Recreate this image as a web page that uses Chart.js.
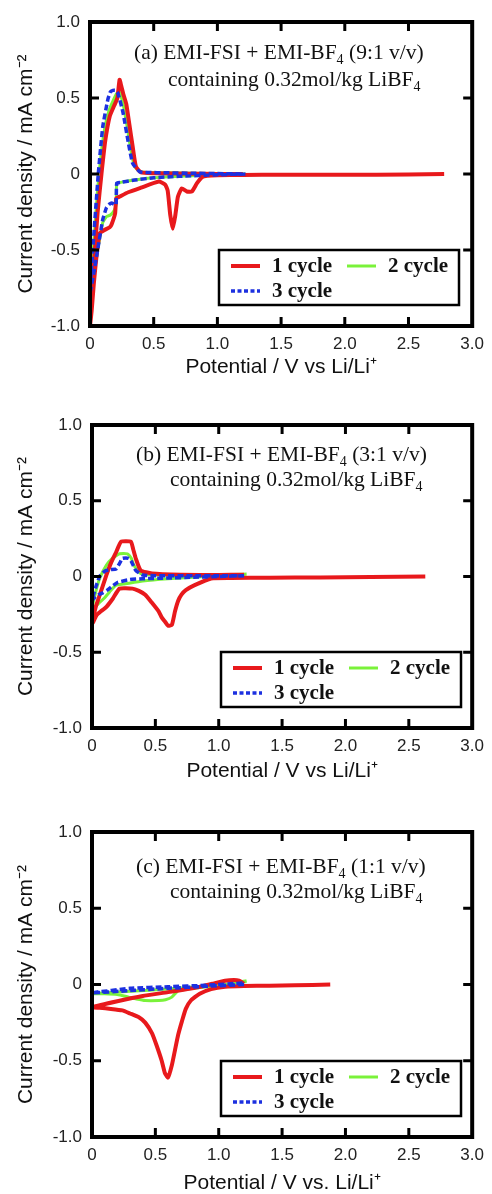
<!DOCTYPE html>
<html>
<head>
<meta charset="utf-8">
<script src="https://cdn.jsdelivr.net/npm/chart.js@4.4.1/dist/chart.umd.min.js"></script>
<style>
  html, body { margin: 0; padding: 0; background: #fff; }
  #wrap { position: relative; width: 492px; height: 1194px; }
  canvas { position: absolute; left: 0; }
</style>
</head>
<body>
<div id="wrap">
  <canvas id="chartA" width="492" height="380" style="top:0px"></canvas>
  <canvas id="chartB" width="492" height="382" style="top:400px"></canvas>
  <canvas id="chartC" width="492" height="394" style="top:800px"></canvas>
</div>
<script>
// tick positions shared by all three panels
const xTicks = [0, 0.5, 1.0, 1.5, 2.0, 2.5, 3.0];
const yTicks = [-1.0, -0.5, 0, 0.5, 1.0];
const cycleLabels = ['1 cycle', '2 cycle', '3 cycle'];

// (a) 9:1  -- potential (V) and current density (mA cm-2), cathodic sweep then anodic
const aRedV = [2.78, 2.5, 2.0, 1.5, 1.2, 1.0, 0.92, 0.88, 0.84, 0.80, 0.76, 0.72, 0.69, 0.67, 0.65, 0.63, 0.61, 0.59, 0.54, 0.40, 0.30, 0.23, 0.206, 0.197, 0.17, 0.155, 0.11, 0.077, 0.05, 0.03, 0.013, 0.0,
  0.03, 0.06, 0.09, 0.12, 0.155, 0.19, 0.215, 0.232, 0.245, 0.26, 0.285, 0.31, 0.335, 0.36, 0.40, 0.5, 0.8, 1.0, 1.2];
const aRedI = [0.0, -0.003, -0.005, -0.005, -0.006, -0.008, -0.012, -0.02, -0.06, -0.115, -0.115, -0.095, -0.15, -0.27, -0.36, -0.27, -0.11, -0.07, -0.05, -0.09, -0.12, -0.15, -0.16, -0.26, -0.33, -0.35, -0.37, -0.39, -0.55, -0.72, -0.9, -1.0,
  -0.6, -0.25, 0.0, 0.22, 0.38, 0.45, 0.50, 0.62, 0.58, 0.53, 0.46, 0.32, 0.18, 0.05, 0.01, 0.005, 0.002, 0.0, 0.0];
const aGreenV = [1.22, 1.0, 0.7, 0.5, 0.35, 0.24, 0.21, 0.205, 0.19, 0.16, 0.13, 0.10, 0.06, 0.03, 0.0,
  0.03, 0.06, 0.09, 0.12, 0.15, 0.18, 0.21, 0.23, 0.26, 0.29, 0.32, 0.35, 0.39, 0.45, 0.6, 0.8, 1.0, 1.22];
const aGreenI = [0.0, -0.005, -0.015, -0.025, -0.04, -0.055, -0.06, -0.2, -0.24, -0.27, -0.28, -0.32, -0.5, -0.65, -0.78,
  -0.45, -0.1, 0.15, 0.32, 0.42, 0.48, 0.53, 0.54, 0.46, 0.32, 0.16, 0.05, 0.015, 0.01, 0.008, 0.005, 0.003, 0.0];
const aBlueV = [1.22, 1.0, 0.7, 0.5, 0.35, 0.24, 0.21, 0.205, 0.19, 0.17, 0.15, 0.13, 0.10, 0.06, 0.03, 0.0,
  0.03, 0.065, 0.10, 0.14, 0.16, 0.18, 0.20, 0.22, 0.26, 0.30, 0.335, 0.39, 0.45, 0.6, 0.8, 1.0, 1.22];
const aBlueI = [0.0, -0.005, -0.015, -0.025, -0.04, -0.055, -0.06, -0.2, -0.2, -0.19, -0.2, -0.22, -0.3, -0.5, -0.65, -0.78,
  -0.4, 0.0, 0.31, 0.49, 0.54, 0.55, 0.55, 0.53, 0.40, 0.21, 0.07, 0.015, 0.01, 0.008, 0.005, 0.003, 0.0];

// (b) 3:1
const bRedV = [2.63, 2.2, 1.8, 1.4, 1.1, 0.94, 0.81, 0.74, 0.706, 0.68, 0.655, 0.63, 0.60, 0.578, 0.55, 0.526, 0.47, 0.42, 0.37, 0.32, 0.217, 0.165, 0.114, 0.07, 0.036, 0.01, 0.0,
  0.03, 0.062, 0.114, 0.15, 0.19, 0.23, 0.307, 0.325, 0.345, 0.384, 0.474, 0.7, 1.0, 1.2];
const bRedI = [0.0, -0.004, -0.006, -0.008, -0.01, -0.013, -0.057, -0.09, -0.12, -0.16, -0.23, -0.32, -0.325, -0.3, -0.27, -0.23, -0.17, -0.12, -0.095, -0.08, -0.08, -0.145, -0.2, -0.23, -0.255, -0.3, -0.31,
  -0.2, -0.12, 0.01, 0.09, 0.16, 0.23, 0.23, 0.18, 0.12, 0.04, 0.02, 0.012, 0.01, 0.012];
const bGreenV = [1.22, 1.0, 0.8, 0.6, 0.4, 0.25, 0.19, 0.14, 0.1, 0.062, 0.023, 0.0,
  0.03, 0.062, 0.114, 0.16, 0.217, 0.28, 0.31, 0.33, 0.36, 0.385, 0.45, 0.7, 1.0, 1.22];
const bGreenI = [0.015, 0.005, -0.005, -0.015, -0.03, -0.05, -0.057, -0.10, -0.14, -0.17, -0.2, -0.22,
  -0.1, -0.01, 0.075, 0.12, 0.15, 0.15, 0.12, 0.075, 0.04, 0.02, 0.012, 0.01, 0.012, 0.015];
const bBlueV = [1.2, 1.0, 0.8, 0.6, 0.4, 0.3, 0.2, 0.15, 0.12, 0.08, 0.05, 0.02, 0.0,
  0.03, 0.06, 0.10, 0.14, 0.19, 0.22, 0.24, 0.29, 0.31, 0.345, 0.40, 0.5, 0.8, 1.0, 1.2];
const bBlueI = [0.005, 0.0, -0.005, -0.01, -0.015, -0.02, -0.04, -0.07, -0.09, -0.11, -0.12, -0.14, -0.16,
  -0.07, 0.0, 0.035, 0.045, 0.05, 0.09, 0.12, 0.12, 0.1, 0.04, 0.01, 0.005, 0.005, 0.005, 0.005];

// (c) 1:1
const cRedV = [1.88, 1.6, 1.4, 1.2, 1.05, 0.94, 0.85, 0.78, 0.74, 0.71, 0.68, 0.655, 0.63, 0.60, 0.575, 0.55, 0.51, 0.474, 0.42, 0.37, 0.3, 0.24, 0.15, 0.06, 0.0,
  0.2, 0.4, 0.6, 0.835, 0.95, 1.05, 1.12, 1.16, 1.2];
const cRedI = [0.0, -0.005, -0.008, -0.01, -0.015, -0.03, -0.06, -0.105, -0.16, -0.24, -0.33, -0.43, -0.53, -0.61, -0.58, -0.5, -0.4, -0.32, -0.25, -0.215, -0.19, -0.17, -0.16, -0.153, -0.15,
  -0.11, -0.075, -0.05, -0.018, 0.005, 0.025, 0.03, 0.025, 0.005];
const cGreenV = [1.22, 1.0, 0.85, 0.75, 0.68, 0.63, 0.58, 0.526, 0.42, 0.35, 0.29, 0.2, 0.1, 0.0,
  0.3, 0.6, 0.9, 1.1, 1.22];
const cGreenI = [0.02, -0.005, -0.02, -0.03, -0.04, -0.083, -0.1, -0.105, -0.105, -0.095, -0.083, -0.065, -0.06, -0.06,
  -0.045, -0.03, -0.01, 0.005, 0.025];
const cBlueV = [1.2, 0.9, 0.6, 0.3, 0.0, 0.3, 0.6, 0.9, 1.2];
const cBlueI = [0.0, -0.012, -0.025, -0.04, -0.055, -0.025, -0.015, -0.005, 0.01];

const RED = '#e8191c';
const GREEN = '#7af23a';
const BLUE = '#1c30e0';

const panels = [
  { id: 'chartA', padTop: 22, plotH: 304, yW: 90, padRight: 14, tag: 'a', ratio: '9:1',
    xTitle: 'Potential / V vs Li/Li\u207A', textY: [31, 58], titlePad: 2,
    red: [aRedV, aRedI], green: [aGreenV, aGreenI], blue: [aBlueV, aBlueI] },
  { id: 'chartB', padTop: 25, plotH: 303, yW: 92, padRight: 12, tag: 'b', ratio: '3:1',
    xTitle: 'Potential / V vs Li/Li\u207A', textY: [30, 55], titlePad: 0,
    red: [bRedV, bRedI], green: [bGreenV, bGreenI], blue: [bBlueV, bBlueI] },
  { id: 'chartC', padTop: 32, plotH: 305, yW: 92, padRight: 12, tag: 'c', ratio: '1:1',
    xTitle: 'Potential / V vs. Li/Li\u207A', textY: [35, 60], titlePad: 0,
    red: [cRedV, cRedI], green: [cGreenV, cGreenI], blue: [cBlueV, cBlueI] }
];

const zip = (vs, is) => vs.map((v, i) => ({ x: v, y: is[i] }));
const fmt = v => v === 0 ? '0' : v.toFixed(1);

// frame with inward ticks, the composition text and the boxed legend
const framePlugin = {
  id: 'frame',
  afterDraw(chart) {
    const { ctx, chartArea: a, scales: { x, y } } = chart;
    const p = chart.options.plugins.frame;
    ctx.save();
    ctx.strokeStyle = '#000';
    ctx.lineWidth = 3;
    ctx.beginPath();
    xTicks.slice(1, -1).forEach(v => {
      const px = x.getPixelForValue(v);
      ctx.moveTo(px, a.bottom); ctx.lineTo(px, a.bottom - 9);
      ctx.moveTo(px, a.top); ctx.lineTo(px, a.top + 9);
    });
    yTicks.slice(1, -1).forEach(v => {
      const py = y.getPixelForValue(v);
      ctx.moveTo(a.left, py); ctx.lineTo(a.left + 9, py);
      ctx.moveTo(a.right, py); ctx.lineTo(a.right - 9, py);
    });
    ctx.stroke();
    ctx.lineWidth = 4;
    ctx.strokeRect(a.left, a.top, a.right - a.left, a.bottom - a.top);

    // two-line caption with subscripts
    ctx.fillStyle = '#111';
    ctx.textBaseline = 'middle';
    ctx.textAlign = 'left';
    const line = (x0, y0, parts) => {
      parts.forEach(([t, sub]) => {
        ctx.font = sub ? '14px "Liberation Serif"' : '21.5px "Liberation Serif"';
        ctx.fillText(t, x0, sub ? y0 + 7 : y0);
        x0 += ctx.measureText(t).width;
      });
    };
    line(a.left + 44, a.top + p.textY[0], [['(' + p.tag + ') EMI-FSI + EMI-BF'], ['4', true], [' (' + p.ratio + ' v/v)']]);
    line(a.left + 78, a.top + p.textY[1], [['containing 0.32mol/kg LiBF'], ['4', true]]);

    // legend box
    const bx = a.left + 129, by = a.bottom - 76, bw = 240, bh = 55;
    ctx.fillStyle = '#fff';
    ctx.fillRect(bx, by, bw, bh);
    ctx.lineWidth = 2.5;
    ctx.strokeRect(bx, by, bw, bh);
    const slots = [[bx + 12, by + 16], [bx + 128, by + 16], [bx + 12, by + 41]];
    chart.data.datasets.forEach(ds => {
      const [lx, ly] = slots[ds.slot];
      ctx.strokeStyle = ds.borderColor;
      ctx.lineWidth = ds.slot === 2 ? 3.5 : ds.borderWidth;
      ctx.setLineDash(ds.slot === 2 ? [4, 2.5] : []);
      ctx.beginPath();
      ctx.moveTo(lx, ly); ctx.lineTo(lx + 29, ly);
      ctx.stroke();
      ctx.setLineDash([]);
      ctx.fillStyle = '#111';
      ctx.font = 'bold 21px "Liberation Serif"';
      ctx.fillText(ds.label, lx + 41, ly + 1);
    });
    ctx.restore();
  }
};

panels.forEach(p => {
  const canvas = document.getElementById(p.id);
  const H = canvas.height;
  new Chart(canvas, {
    type: 'scatter',
    data: {
      datasets: [
        { label: cycleLabels[2], slot: 2, data: zip(p.blue[0], p.blue[1]), borderColor: BLUE, borderWidth: 3.5, borderDash: [6, 3], order: 0 },
        { label: cycleLabels[0], slot: 0, data: zip(p.red[0], p.red[1]), borderColor: RED, borderWidth: 4, order: 1 },
        { label: cycleLabels[1], slot: 1, data: zip(p.green[0], p.green[1]), borderColor: GREEN, borderWidth: 3, order: 2 }
      ].map(ds => Object.assign(ds, { showLine: true, pointRadius: 0, fill: false, tension: 0.15 }))
    },
    options: {
      responsive: false,
      animation: false,
      layout: { padding: { top: p.padTop, right: p.padRight, left: 0, bottom: 0 } },
      plugins: { legend: { display: false }, tooltip: { enabled: false }, frame: { tag: p.tag, ratio: p.ratio, textY: p.textY } },
      scales: {
        x: {
          type: 'linear', min: 0, max: 3,
          afterBuildTicks: s => { s.ticks = xTicks.map(v => ({ value: v })); },
          afterFit: s => { s.height = H - p.padTop - p.plotH; },
          grid: { display: false, drawTicks: false },
          border: { display: false },
          ticks: { callback: fmt, color: '#222', font: { family: 'Liberation Sans', size: 17 }, padding: 8, maxRotation: 0 },
          title: { display: true, text: p.xTitle, color: '#111', font: { family: 'Liberation Sans', size: 21, lineHeight: 1 }, padding: { top: 0, bottom: p.titlePad } }
        },
        y: {
          type: 'linear', min: -1, max: 1,
          afterBuildTicks: s => { s.ticks = yTicks.map(v => ({ value: v })); },
          afterFit: s => { s.width = p.yW; },
          grid: { display: false, drawTicks: false },
          border: { display: false },
          ticks: { callback: fmt, color: '#222', font: { family: 'Liberation Sans', size: 17 }, padding: 10 },
          title: { display: true, text: 'Current density / mA cm\u207B\u00B2', color: '#111', font: { family: 'Liberation Sans', size: 21 }, padding: { top: 14, bottom: 0 } }
        }
      }
    },
    plugins: [framePlugin]
  });
});
</script>
</body>
</html>
